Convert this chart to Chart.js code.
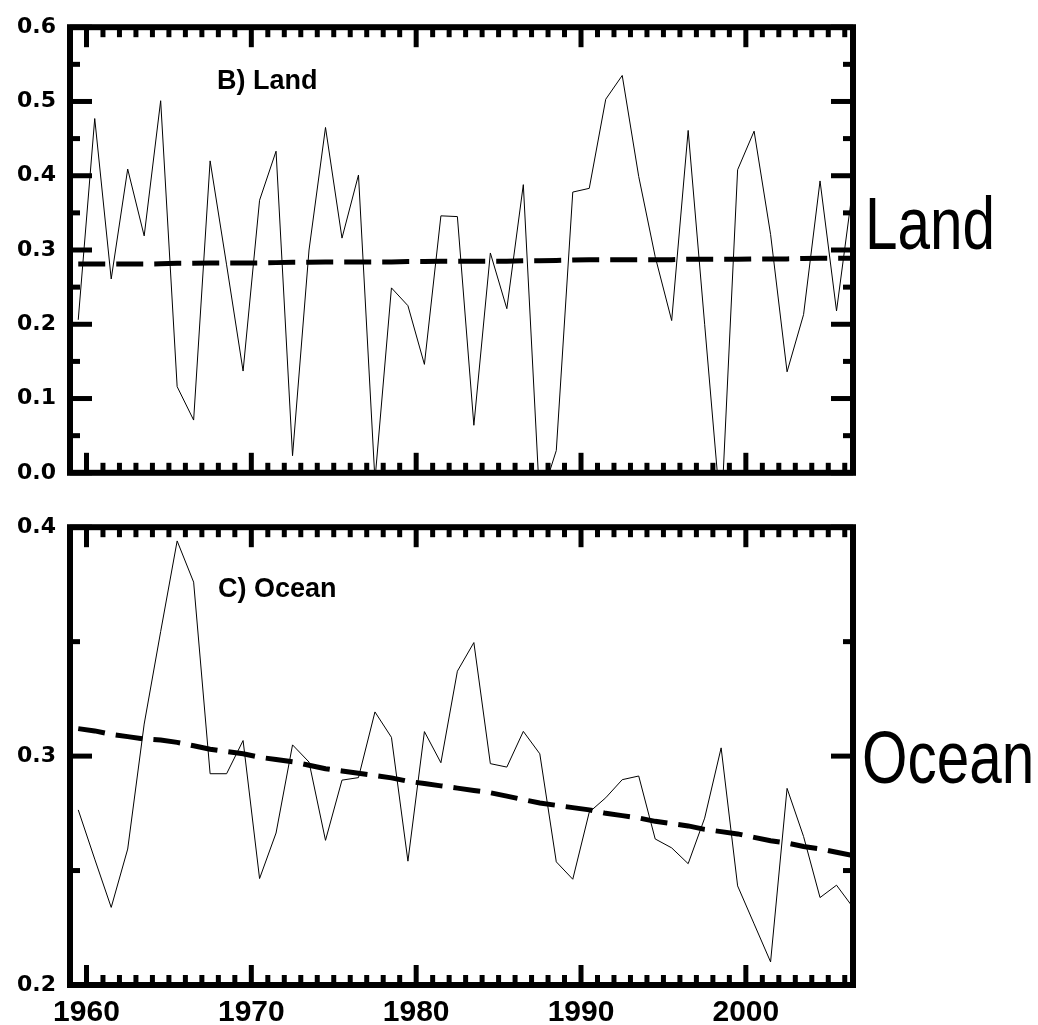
<!DOCTYPE html>
<html><head><meta charset="utf-8">
<script src="https://cdn.jsdelivr.net/npm/chart.js@4.4.1/dist/chart.umd.min.js"></script>
<style>
html,body{margin:0;padding:0;background:#fff;}
#wrap{position:relative;width:1038px;height:1025px;overflow:hidden;background:#fff;}
#c1{position:absolute;left:0;top:0;}
#c2{position:absolute;left:0;top:500px;}
.side{position:absolute;font-family:"Liberation Sans",Arial,sans-serif;font-size:74px;line-height:74px;transform-origin:0 0;transform:scaleX(0.79);color:#000;white-space:nowrap;}
</style></head><body>
<div id="wrap">
<canvas id="c1" width="1038" height="500"></canvas>
<canvas id="c2" width="1038" height="525"></canvas>
<div class="side" style="left:865px;top:187px;">Land</div>
<div class="side" style="left:862px;top:721px;">Ocean</div>
</div>
<script>
// ---- data ----
const years = [1959,1960,1961,1962,1963,1964,1965,1966,1967,1968,
  1969,1970,1971,1972,1973,1974,1975,1976,1977,1978,
  1979,1980,1981,1982,1983,1984,1985,1986,1987,1988,
  1989,1990,1991,1992,1993,1994,1995,1996,1997,1998,
  1999,2000,2001,2002,2003,2004,2005,2006];

const landValues = [0.206,0.477,0.261,0.409,0.319,0.501,0.116,0.071,0.420,0.280,
  0.137,0.367,0.433,0.023,0.300,0.465,0.316,0.401,-0.010,0.249,
  0.225,0.146,0.346,0.345,0.064,0.296,0.221,0.388,-0.040,0.030,
  0.378,0.383,0.503,0.535,0.399,0.291,0.205,0.461,0.200,-0.060,
  0.408,0.460,0.321,0.136,0.213,0.393,0.218,0.386];

const landTrend = [0.281,0.281,0.281,0.281,0.281,0.2815,0.282,
  0.282,0.2825,0.2825,0.2825,0.2825,0.283,0.2835,0.2835,0.284,0.284,
  0.284,0.284,0.284,0.2845,0.2845,0.285,0.285,0.285,0.285,0.285,
  0.2855,0.2855,0.286,0.2865,0.287,0.287,0.287,0.287,0.287,0.287,
  0.2875,0.2875,0.2875,0.2875,0.288,0.288,0.288,0.2885,0.289,0.289,0.289];

const oceanValues = [0.2765,0.255,0.2339,0.2594,0.314,0.3544,0.394,0.376,0.2923,0.2923,
  0.3068,0.2465,0.2664,0.3049,0.2974,0.2632,0.2895,0.2906,0.3193,0.3082,
  0.2541,0.3107,0.2971,0.3371,0.3496,0.2967,0.2952,0.3108,0.3010,0.2538,
  0.2462,0.2755,0.2818,0.2897,0.2913,0.2638,0.2599,0.2530,0.2729,0.3036,
  0.2433,0.2267,0.2101,0.2859,0.2649,0.2382,0.2436,0.2339];

const oceanTrend = [0.312,0.311,0.3095,0.3085,0.3075,0.307,0.306,0.3045,0.303,0.302,
  0.301,0.2995,0.2985,0.2975,0.296,0.2945,0.2935,0.2925,0.2915,0.2905,
  0.289,0.288,0.287,0.286,0.285,0.284,0.2825,0.281,0.2795,0.2785,
  0.2775,0.2765,0.275,0.274,0.273,0.2715,0.2705,0.2695,0.268,0.267,
  0.266,0.2645,0.263,0.262,0.2605,0.2595,0.258,0.2565];

const xTickLabels = [1960,1970,1980,1990,2000];
const landYTicks = [0.0,0.1,0.2,0.3,0.4,0.5,0.6];
const oceanYTicks = [0.2,0.3,0.4];

// annual values are plotted at mid-year
const midYear = 0.5;
const toPts = (vals) => years.map((yr, i) => ({x: yr + midYear, y: vals[i]}));

// ---- frame, inward ticks and panel label ----
const framePlugin = {
  id: 'frameTicks',
  afterDatasetsDraw(chart, args, opts) {
    const {ctx, chartArea: {left, right, top, bottom}} = chart;
    const xs = chart.scales.x, ys = chart.scales.y;
    ctx.save();
    ctx.strokeStyle = '#000';
    ctx.lineCap = 'butt';
    ctx.lineWidth = 5;
    const seg = (x1, y1, x2, y2) => { ctx.beginPath(); ctx.moveTo(x1, y1); ctx.lineTo(x2, y2); ctx.stroke(); };
    for (let yr = Math.ceil(xs.min); yr <= xs.max; yr++) {
      const px = xs.getPixelForValue(yr);
      const len = (yr % 10 === 0) ? 20 : 10;
      seg(px, top, px, top + len);
      seg(px, bottom, px, bottom - len);
    }
    const step = opts.yMinor;
    const n = Math.round((ys.max - ys.min) / step);
    for (let i = 0; i <= n; i++) {
      const v = ys.min + i * step;
      const py = ys.getPixelForValue(v);
      const len = (i % 2 === 0) ? 22 : 10;
      seg(left, py, left + len, py);
      seg(right, py, right - len, py);
    }
    ctx.lineWidth = 6;
    ctx.strokeRect(left, top, right - left, bottom - top);
    ctx.fillStyle = '#000';
    ctx.font = 'bold 27px "Liberation Sans", Arial, sans-serif';
    ctx.textBaseline = 'alphabetic';
    ctx.textAlign = 'left';
    ctx.fillText(opts.label, left + opts.lx, top + opts.ly);
    ctx.restore();
  }
};

const yTickFont = {family: '"DejaVu Sans", sans-serif', weight: 'bold', size: 22};

function yScale(min, max, tickArr) {
  return {
    min: min, max: max,
    afterFit(s) { s.width = 70; },
    afterBuildTicks(s) { s.ticks = tickArr.map(v => ({value: v})); },
    ticks: {callback: v => Number(v).toFixed(1), font: yTickFont, color: '#000', padding: 14},
    grid: {display: false, drawTicks: false},
    border: {display: false}
  };
}

function datasets(vals, trend) {
  return [
    {data: toPts(vals), borderColor: '#000', borderWidth: 1, pointRadius: 0, tension: 0, fill: false},
    {data: toPts(trend), borderColor: '#000', borderWidth: 5, borderDash: [27, 11], pointRadius: 0, tension: 0, fill: false}
  ];
}

new Chart(document.getElementById('c1'), {
  type: 'line',
  data: {datasets: datasets(landValues, landTrend)},
  options: {
    responsive: false, animation: false, devicePixelRatio: 1,
    layout: {padding: {left: 0, right: 185, top: 23, bottom: 16}},
    plugins: {legend: {display: false}, tooltip: {enabled: false},
      frameTicks: {label: 'B) Land', lx: 147, ly: 62, yMinor: 0.05}},
    scales: {
      x: {type: 'linear', min: 1959, max: 2006.5, display: false},
      y: yScale(0, 0.6, landYTicks)
    }
  },
  plugins: [framePlugin]
});

new Chart(document.getElementById('c2'), {
  type: 'line',
  data: {datasets: datasets(oceanValues, oceanTrend)},
  options: {
    responsive: false, animation: false, devicePixelRatio: 1,
    layout: {padding: {left: 0, right: 185, top: 23, bottom: 0}},
    plugins: {legend: {display: false}, tooltip: {enabled: false},
      frameTicks: {label: 'C) Ocean', lx: 148, ly: 70, yMinor: 0.05}},
    scales: {
      x: {
        type: 'linear', min: 1959, max: 2006.5,
        afterFit(s) { s.height = 40; },
        afterBuildTicks(s) { s.ticks = xTickLabels.map(v => ({value: v})); },
        ticks: {callback: v => String(v), font: {family: '"Liberation Sans", Arial, sans-serif', weight: 'bold', size: 30}, color: '#000', padding: 10, maxRotation: 0, autoSkip: false},
        grid: {display: false, drawTicks: false},
        border: {display: false}
      },
      y: yScale(0.2, 0.4, oceanYTicks)
    }
  },
  plugins: [framePlugin]
});
</script>
</body></html>
